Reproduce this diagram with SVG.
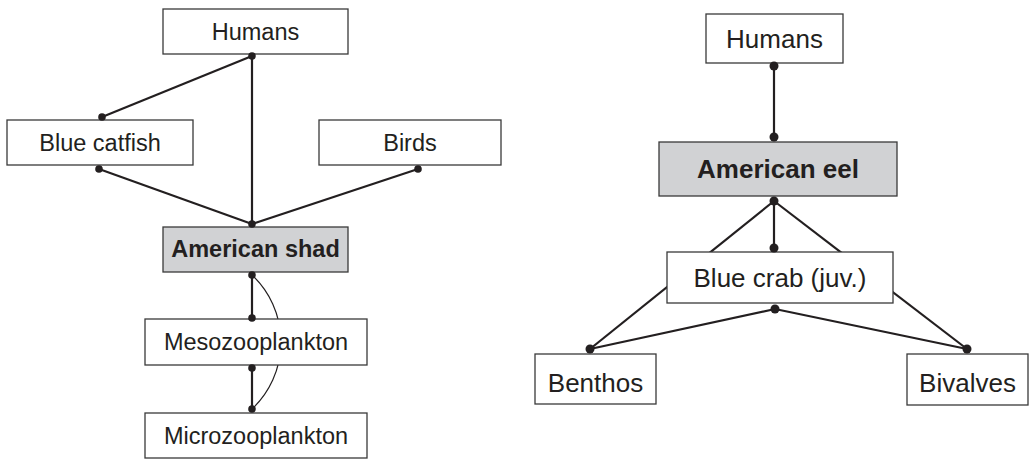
<svg xmlns="http://www.w3.org/2000/svg" width="1029" height="459" viewBox="0 0 1029 459">
<style>
.box{fill:#fff;stroke:#3a3a3a;stroke-width:1.3}
.focal{fill:#d1d2d4;stroke:#3a3a3a;stroke-width:1.3}
.t{font-family:"Liberation Sans",Arial,sans-serif;fill:#231f20;text-anchor:middle}
.l{font-size:23.5px}
.r{font-size:26px}
.b{font-weight:bold}
.c{stroke:#231f20;stroke-width:2.2;fill:none}
.thin{stroke:#231f20;stroke-width:1.2;fill:none}
.d{fill:#231f20}
</style>
<g id="connectors">
<path class="thin" d="M252,275 A92,92 0 0 1 252,409"/>
<line class="c" x1="252" y1="56" x2="252" y2="224"/>
<line class="c" x1="252" y1="56" x2="102" y2="117"/>
<line class="c" x1="99" y1="169" x2="252" y2="224"/>
<line class="c" x1="418" y1="169" x2="252" y2="224"/>
<line class="c" x1="252" y1="275" x2="252" y2="318"/>
<line class="c" x1="252" y1="368" x2="252" y2="409"/>
<line class="c" x1="774" y1="66" x2="774" y2="137"/>
<line class="c" x1="774" y1="201" x2="774" y2="248"/>
<line class="c" x1="774" y1="201" x2="590" y2="349"/>
<line class="c" x1="774" y1="201" x2="967" y2="349"/>
<line class="c" x1="775" y1="309" x2="590" y2="349"/>
<line class="c" x1="775" y1="309" x2="967" y2="349"/>
</g>
<g id="humans-left"><rect class="box" x="163" y="9" width="185" height="45"/><text class="t l" x="255.5" y="40">Humans</text></g>
<g id="blue-catfish"><rect class="box" x="7" y="120" width="186" height="45"/><text class="t l" x="100" y="150.5">Blue catfish</text></g>
<g id="birds"><rect class="box" x="319" y="120" width="182" height="45"/><text class="t l" x="410" y="150.5">Birds</text></g>
<g id="american-shad"><rect class="focal" x="163" y="227" width="185" height="45"/><text class="t l b" x="255.5" y="257">American shad</text></g>
<g id="mesozooplankton"><rect class="box" x="145" y="319" width="222" height="46"/><text class="t l" x="256" y="350">Mesozooplankton</text></g>
<g id="microzooplankton"><rect class="box" x="145" y="413" width="222" height="45"/><text class="t l" x="256" y="444">Microzooplankton</text></g>
<g id="humans-right"><rect class="box" x="706" y="14" width="137" height="49"/><text class="t r" x="774.5" y="48">Humans</text></g>
<g id="american-eel"><rect class="focal" x="659" y="142" width="238" height="54"/><text class="t r b" x="778" y="178">American eel</text></g>
<g id="blue-crab"><rect class="box" x="667" y="252" width="226" height="51"/><text class="t r" x="780" y="287">Blue crab (juv.)</text></g>
<g id="benthos"><rect class="box" x="535" y="354" width="121" height="50"/><text class="t r" x="595.5" y="392">Benthos</text></g>
<g id="bivalves"><rect class="box" x="907" y="354" width="121" height="51"/><text class="t r" x="967.5" y="392">Bivalves</text></g>
<g id="dots">
<circle class="d" cx="252" cy="56" r="3.8"/>
<circle class="d" cx="102" cy="117" r="3.8"/>
<circle class="d" cx="99" cy="169" r="3.8"/>
<circle class="d" cx="418" cy="169" r="3.8"/>
<circle class="d" cx="252" cy="224" r="3.8"/>
<circle class="d" cx="252" cy="275" r="3.8"/>
<circle class="d" cx="252" cy="318" r="3.8"/>
<circle class="d" cx="252" cy="368" r="3.8"/>
<circle class="d" cx="252" cy="409" r="3.8"/>
<circle class="d" cx="774" cy="66" r="4.5"/>
<circle class="d" cx="774" cy="137" r="4.5"/>
<circle class="d" cx="774" cy="201" r="4.5"/>
<circle class="d" cx="774" cy="248" r="4.5"/>
<circle class="d" cx="775" cy="309" r="4.5"/>
<circle class="d" cx="590" cy="349" r="4.5"/>
<circle class="d" cx="967" cy="349" r="4.5"/>
</g>
</svg>
